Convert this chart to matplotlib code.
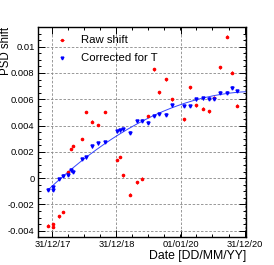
import numpy as np
import matplotlib
matplotlib.use('Agg')
import matplotlib.pyplot as plt
import matplotlib.dates as mdates
from matplotlib.ticker import FixedLocator, MultipleLocator, FuncFormatter

plt.rcParams['font.family'] = ['Liberation Sans', 'DejaVu Sans']
plt.rcParams['axes.unicode_minus'] = True

# measurement dates
dates = ['2017-12-04', '2018-01-02', '2018-01-02', '2018-02-05', '2018-02-28',
         '2018-03-29', '2018-04-16', '2018-04-26', '2018-06-16', '2018-07-11',
         '2018-08-12', '2018-09-19', '2018-10-29', '2019-01-06', '2019-01-21',
         '2019-02-09', '2019-03-17', '2019-04-29', '2019-05-28', '2019-06-28',
         '2019-08-05', '2019-08-31', '2019-10-08', '2019-11-15', '2020-01-19',
         '2020-02-22', '2020-03-29', '2020-05-08', '2020-06-13', '2020-07-08',
         '2020-08-15', '2020-09-24', '2020-10-21', '2020-11-18']

raw_shift = [-0.00361, -0.00350, -0.00373, -0.00292, -0.00257,
             0.00043, 0.00221, 0.00244, 0.00299, 0.00503,
             0.00429, 0.00404, 0.00503, 0.00139, 0.00160,
             0.00020, -0.00127, -0.00033, -0.00003, 0.00472,
             0.00827, 0.00652, 0.00751, 0.00599, 0.00447,
             0.00690, 0.00553, 0.00528, 0.00509, 0.00611,
             0.00842, 0.01076, 0.00802, 0.00551]

corr_shift = [-0.00089, -0.00069, -0.00089, -0.00008, 0.00018,
              0.00025, 0.00058, 0.00048, 0.00145, 0.00157,
              0.00241, 0.00264, 0.00276, 0.00355, 0.00363,
              0.00370, 0.00345, 0.00434, 0.00436, 0.00421,
              0.00472, 0.00487, 0.00482, 0.00553, 0.00548,
              0.00548, 0.00599, 0.00606, 0.00604, 0.00604,
              0.00650, 0.00650, 0.00688, 0.00663]

shift_err = 0.0001

tick_dates = ['2017-12-31', '2018-12-31', '2020-01-01', '2020-12-31']
tick_labels = ['31/12/17', '31/12/18', '01/01/20', '31/12/20']

x = mdates.datestr2num(dates)
ticks = mdates.datestr2num(tick_dates)
x_lo = mdates.datestr2num('2017-10-10')
x_hi = mdates.datestr2num('2021-01-11')

fig = plt.figure(figsize=(2.74, 2.65), dpi=100)
ax = fig.add_axes([0.1387, 0.1057, 0.7609, 0.7925])

ax.errorbar(x, raw_shift, yerr=shift_err, xerr=3, fmt='o', ms=1.6, color='red',
            elinewidth=0.7, capsize=0, zorder=3)
ax.errorbar(x, corr_shift, yerr=shift_err, fmt='v', ms=2.2, color='blue',
            elinewidth=0.7, capsize=0, zorder=3)

# quadratic fit of corrected values
t = (x - ticks[0]) / 365.25
coef = np.polyfit(t, corr_shift, 2)
xf = np.linspace(x[0], x_hi, 200)
ax.plot(xf, np.polyval(coef, (xf - ticks[0]) / 365.25), color='#3344ff', lw=0.7, zorder=2)

ax.set_xlim(x_lo, x_hi)
ax.set_ylim(-0.00448, 0.0115)

ax.xaxis.set_major_locator(FixedLocator(ticks))
ax.set_xticklabels(tick_labels)
ax.xaxis.set_minor_locator(FixedLocator(ticks[0] + np.arange(-1, 13) * 365.25 / 4))
ax.yaxis.set_major_locator(MultipleLocator(0.002))
ax.yaxis.set_minor_locator(MultipleLocator(0.0005))
ax.yaxis.set_major_formatter(FuncFormatter(lambda v, p: '%g' % round(v, 6) if abs(v) > 1e-9 else '0'))

ax.tick_params(which='both', direction='in', top=True, right=True, labelsize=6.7, width=0.7)
ax.tick_params(which='major', length=5, pad=2.5)
ax.tick_params(which='minor', length=2.5)
ax.grid(True, which='major', ls=(0, (3, 2)), color='#888888', lw=0.6)
for s in ax.spines.values():
    s.set_linewidth(1.0)

ax.set_ylabel('PSD shift', fontsize=8.3, loc='top')
ax.yaxis.set_label_coords(-0.127, 1.0)
ax.set_xlabel('Date [DD/MM/YY]', fontsize=8.8, loc='right')
ax.xaxis.set_label_coords(1.0, -0.06)

# legend
ax.errorbar([0.115], [0.937], yerr=0.006, xerr=0.008, fmt='o', ms=1.4, color='red',
            elinewidth=0.7, transform=ax.transAxes)
ax.errorbar([0.115], [0.852], yerr=0.006, fmt='v', ms=2.0, color='blue',
            elinewidth=0.7, transform=ax.transAxes)
ax.text(0.206, 0.937, 'Raw shift', fontsize=8.2, va='center', transform=ax.transAxes)
ax.text(0.206, 0.852, 'Corrected for T', fontsize=8.2, va='center', transform=ax.transAxes)

fig.savefig('out.png', dpi=100)
